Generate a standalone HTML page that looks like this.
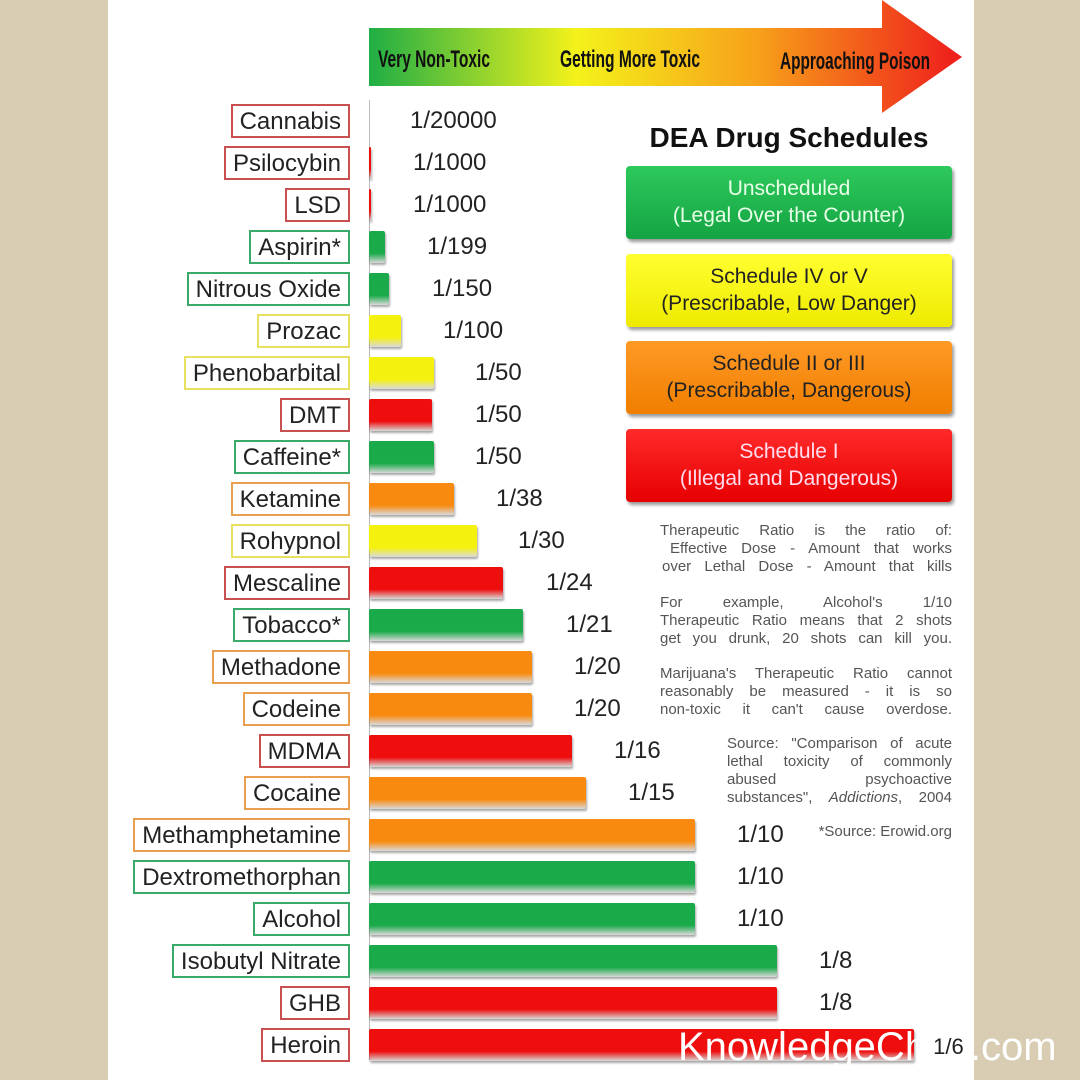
<!DOCTYPE html>
<html><head><meta charset="utf-8"><style>
body{margin:0;width:1080px;height:1080px;background:#d8cdb3;font-family:"Liberation Sans",sans-serif;overflow:hidden}
#p{position:absolute;left:108px;top:0;width:866px;height:1080px;background:#fff}
.a{position:absolute}
.lb{position:absolute;height:34px;line-height:32px;font-size:24px;color:#222;padding:0 7px;background:#fff;border:2px solid;box-sizing:border-box;white-space:nowrap}
.bar{position:absolute;height:32px;left:369px;border-radius:2px;box-shadow:1px 2px 2px rgba(0,0,0,.35)}
.v{position:absolute;font-size:24px;color:#222;line-height:32px}
.leg{position:absolute;left:626px;width:326px;height:73px;border-radius:4px;text-align:center;font-size:21px;line-height:27px;padding-top:9px;box-sizing:border-box;box-shadow:2px 3px 3px rgba(0,0,0,.4)}
.t{position:absolute;font-size:15px;color:#555;line-height:18px}
.t div{text-align:justify;text-align-last:justify;white-space:nowrap;height:18px}
</style></head><body>
<div id="p"></div>
<svg class="a" style="left:0;top:0" width="1080" height="120">
<defs><linearGradient id="g" x1="369" x2="962" gradientUnits="userSpaceOnUse">
<stop offset="0" stop-color="#1fae45"/><stop offset=".35" stop-color="#f4f21a"/><stop offset=".65" stop-color="#f7a21a"/><stop offset="1" stop-color="#ee1c1c"/></linearGradient></defs>
<polygon points="369,28 882,28 882,0 962,57 882,113 882,86 369,86" fill="url(#g)"/>
<text x="378" y="67" font-size="24" font-weight="bold" font-family="Liberation Sans Narrow,Liberation Sans,sans-serif" textLength="112" lengthAdjust="spacingAndGlyphs" fill="#111">Very Non-Toxic</text>
<text x="560" y="67" font-size="24" font-weight="bold" font-family="Liberation Sans Narrow,Liberation Sans,sans-serif" textLength="140" lengthAdjust="spacingAndGlyphs" fill="#111">Getting More Toxic</text>
<text x="780" y="69" font-size="24" font-weight="bold" font-family="Liberation Sans Narrow,Liberation Sans,sans-serif" textLength="150" lengthAdjust="spacingAndGlyphs" fill="#111">Approaching Poison</text>
</svg>
<div class="a" style="left:369px;top:100px;width:1px;height:960px;background:#bbb"></div>
<div id="rows"></div>
<div class="a" style="left:626px;top:122px;width:326px;text-align:center;font-weight:bold;font-size:28px;color:#111">DEA Drug Schedules</div>
<div class="leg" style="top:166px;background:linear-gradient(#2ec95c,#14a443);color:#e8ffe8">Unscheduled<br>(Legal Over the Counter)</div>
<div class="leg" style="top:254px;background:linear-gradient(#ffff30,#eeea00);color:#222">Schedule IV or V<br>(Prescribable, Low Danger)</div>
<div class="leg" style="top:341px;background:linear-gradient(#ff9a26,#f07e00);color:#222">Schedule II or III<br>(Prescribable, Dangerous)</div>
<div class="leg" style="top:429px;background:linear-gradient(#ff2a2a,#e60000);color:#fde">Schedule I<br>(Illegal and Dangerous)</div>
<div class="t" style="left:660px;top:522px;width:292px"><div>Therapeutic Ratio is the ratio of:</div></div>
<div class="t" style="left:670px;top:540px;width:282px"><div>Effective Dose - Amount that works</div></div>
<div class="t" style="left:662px;top:558px;width:290px"><div>over Lethal Dose - Amount that kills</div></div>
<div class="t" style="left:660px;top:594px;width:292px"><div>For example, Alcohol's 1/10</div><div>Therapeutic Ratio means that 2 shots</div><div>get you drunk, 20 shots can kill you.</div></div>
<div class="t" style="left:660px;top:665px;width:292px"><div>Marijuana's Therapeutic Ratio cannot</div><div>reasonably be measured - it is so</div><div>non-toxic it can't cause overdose.</div></div>
<div class="t" style="left:727px;top:735px;width:225px"><div>Source: "Comparison of acute</div><div>lethal toxicity of commonly</div><div>abused psychoactive</div><div>substances", <i>Addictions</i>, 2004</div></div>
<div class="t" style="left:803px;top:823px;width:149px"><div style="text-align-last:right">*Source: Erowid.org</div></div>
<script>
var G="#1aaa4a",Y="#f5f10e",O="#f88a10",R="#ee0e0e";
var bc={};bc[G]="#3aaa6a";bc[Y]="#e8e060";bc[O]="#e8a050";bc[R]="#c85050";
var d=[["Cannabis",R,369,"1/20000",410],["Psilocybin",R,371,"1/1000",413],["LSD",R,371,"1/1000",413],["Aspirin*",G,385,"1/199",427],["Nitrous Oxide",G,389,"1/150",432],["Prozac",Y,401,"1/100",443],["Phenobarbital",Y,434,"1/50",475],["DMT",R,432,"1/50",475],["Caffeine*",G,434,"1/50",475],["Ketamine",O,454,"1/38",496],["Rohypnol",Y,477,"1/30",518],["Mescaline",R,503,"1/24",546],["Tobacco*",G,523,"1/21",566],["Methadone",O,532,"1/20",574],["Codeine",O,532,"1/20",574],["MDMA",R,572,"1/16",614],["Cocaine",O,586,"1/15",628],["Methamphetamine",O,695,"1/10",737],["Dextromethorphan",G,695,"1/10",737],["Alcohol",G,695,"1/10",737],["Isobutyl Nitrate",G,777,"1/8",819],["GHB",R,777,"1/8",819],["Heroin",R,914,"1/6",930]];
var h="";
d.forEach(function(r,i){var c=121+i*42;
h+='<div class="lb" style="right:730px;top:'+(c-17)+'px;border-color:'+bc[r[1]]+'">'+r[0]+'</div>';
if(r[2]>369)h+='<div class="bar" style="top:'+(c-16)+'px;width:'+(r[2]-369)+'px;background:linear-gradient('+r[1]+','+r[1]+' 70%,rgba(0,0,0,.15))"></div>';
if(i<22)h+='<div class="v" style="left:'+r[4]+'px;top:'+(c-16)+'px">'+r[3]+'</div>';
});
document.getElementById("rows").innerHTML=h;
</script>
<div class="a" style="left:678px;top:1024px;font-size:40px;color:#fff;line-height:46px;white-space:nowrap">KnowledgeCh<span style="color:#222;font-size:22px;vertical-align:6px"> 1/6 </span>.com</div>
</body></html>
